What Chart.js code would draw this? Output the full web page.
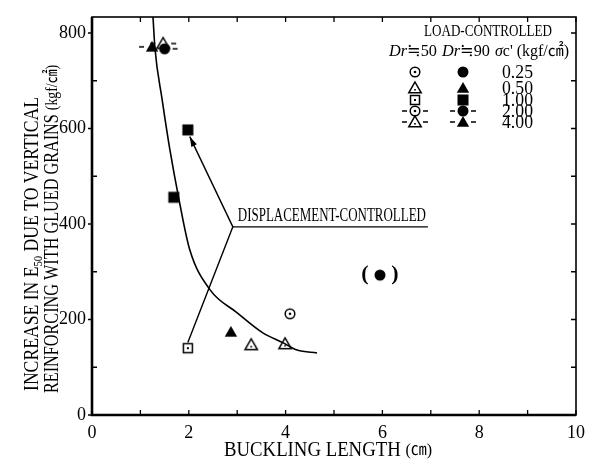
<!DOCTYPE html>
<html><head><meta charset="utf-8">
<script src="https://cdn.jsdelivr.net/npm/chart.js@4.4.0/dist/chart.umd.min.js"></script>
<style>html,body{margin:0;padding:0;background:#fff}canvas{display:block}</style>
</head><body>
<canvas id="c" width="597" height="462"></canvas>
<script>
// ---- data ----
const xTickValues = [0, 2, 4, 6, 8, 10];
const yTickValues = [0, 200, 400, 600, 800];
const sigmaLabels = ['0.25', '0.50', '1.00', '2.00', '4.00'];

// fitted curve (load-controlled)
const curveX = [1.26, 1.30, 1.45, 1.61, 1.80, 2.02, 2.44, 3.00, 3.53, 3.95, 4.24, 4.65];
const curveY = [834, 769, 660, 555, 450, 346, 262, 214, 172, 151, 136, 130];

// displacement-controlled leader lines
const dispX = [2.02, 2.91, 1.98];
const dispY = [583, 394, 152];
const dispLabelX = [2.91, 6.94];
const dispLabelY = [394, 394];

// Dr=50 (open symbols)
const dr50s025X = [4.09], dr50s025Y = [212];
const dr50s050X = [3.29, 3.99], dr50s050Y = [147, 149];
const dr50s100X = [1.98], dr50s100Y = [140];
const dr50s400X = [1.47], dr50s400Y = [778];
// Dr=90 (filled symbols)
const dr90s025X = [5.95], dr90s025Y = [293];
const dr90s050X = [2.87], dr90s050Y = [174];
const dr90s100X = [1.98, 1.69], dr90s100Y = [597, 456];
const dr90s200X = [1.50], dr90s200Y = [767];
const dr90s400X = [1.24], dr90s400Y = [771];

const SERIF = '"Liberation Serif","DejaVu Serif","Noto Sans CJK JP",serif';
const pts = (xs, ys) => xs.map((x, i) => ({x, y: ys[i]}));
const tickFont = {family: SERIF, size: 18};

// ---- marker images ----
function makeMarker(shape, filled, dashed) {
  const W = dashed ? 32 : 16, H = 16;
  const c = document.createElement('canvas'); c.width = W; c.height = H;
  const g = c.getContext('2d');
  const cx = W / 2, cy = H / 2;
  g.fillStyle = '#000'; g.strokeStyle = '#000'; g.lineWidth = 1.5;
  if (shape === 'circle') {
    g.beginPath(); g.arc(cx, cy, filled ? 5.5 : 4.8, 0, Math.PI * 2);
    if (filled) g.fill(); else { g.stroke(); g.beginPath(); g.arc(cx, cy, 1.3, 0, Math.PI * 2); g.fill(); }
  } else if (shape === 'triangle') {
    g.beginPath(); g.moveTo(cx, cy - 6); g.lineTo(cx + 6.2, cy + 4.8); g.lineTo(cx - 6.2, cy + 4.8); g.closePath();
    if (filled) g.fill(); else { g.stroke(); g.fillRect(cx - 0.8, cy + 1, 1.6, 1.6); }
  } else {
    if (filled) g.fillRect(cx - 5.5, cy - 5.5, 11, 11);
    else { g.strokeRect(cx - 4.5, cy - 4.5, 9, 9); g.fillRect(cx - 1, cy - 1, 2, 2); }
  }
  if (dashed) {
    g.lineWidth = 1.6;
    g.beginPath(); g.moveTo(3, cy); g.lineTo(8, cy); g.moveTo(W - 8, cy); g.lineTo(W - 3, cy); g.stroke();
  }
  return c;
}
const M = {
  o025: makeMarker('circle', false, false),
  o050: makeMarker('triangle', false, false),
  o100: makeMarker('square', false, false),
  o200: makeMarker('circle', false, true),
  o400: makeMarker('triangle', false, true),
  f025: makeMarker('circle', true, false),
  f050: makeMarker('triangle', true, false),
  f100: makeMarker('square', true, false),
  f200: makeMarker('circle', true, true),
  f400: makeMarker('triangle', true, true)
};

function markerSet(label, xs, ys, img) {
  return {label, data: pts(xs, ys), pointStyle: img, pointRadius: 7, showLine: false, order: 0};
}

// ---- text helpers ----
function fontOf(p, size) {
  const s = p.sub ? size * 0.6 : (p.scale ? size * p.scale : size);
  return (p.bold ? 'bold ' : '') + (p.italic ? 'italic ' : '') + s + 'px ' + SERIF;
}
function partsWidth(ctx, parts, size) {
  let w = 0;
  for (const p of parts) { ctx.font = fontOf(p, size); w += ctx.measureText(p.t).width; }
  return w;
}
function drawParts(ctx, parts, size, targetW) {
  const nat = partsWidth(ctx, parts, size);
  const sx = targetW ? targetW / nat : 1;
  ctx.save(); ctx.scale(sx, 1);
  ctx.textBaseline = 'middle'; ctx.textAlign = 'left'; ctx.fillStyle = '#000';
  let x = 0;
  for (const p of parts) {
    ctx.font = fontOf(p, size);
    ctx.fillText(p.t, x, p.sub ? size * 0.3 : 0);
    x += ctx.measureText(p.t).width;
  }
  ctx.restore();
}

const decor = {
  id: 'decor',
  afterDatasetsDraw(chart) {
    const ctx = chart.ctx, xs = chart.scales.x, ys = chart.scales.y, ca = chart.chartArea;
    ctx.save();
    ctx.strokeStyle = '#000'; ctx.fillStyle = '#000';
    // frame
    ctx.lineWidth = 1.6;
    ctx.strokeRect(ca.left, ca.top, ca.right - ca.left, ca.bottom - ca.top);
    ctx.lineWidth = 2.6;
    ctx.beginPath(); ctx.moveTo(ca.left, ca.top); ctx.lineTo(ca.left, ca.bottom); ctx.lineTo(ca.right, ca.bottom); ctx.stroke();
    // ticks
    ctx.lineWidth = 1.3;
    ctx.beginPath();
    for (let v = 0; v <= 10; v++) {
      const px = xs.getPixelForValue(v);
      ctx.moveTo(px, ca.bottom); ctx.lineTo(px, ca.bottom - 5);
      ctx.moveTo(px, ca.top); ctx.lineTo(px, ca.top + 5);
    }
    for (let v = 0; v <= 800; v += 100) {
      const py = ys.getPixelForValue(v);
      if (v % 200 === 0) { ctx.moveTo(ca.left - 4, py); ctx.lineTo(ca.left, py); }
      else { ctx.moveTo(ca.left, py); ctx.lineTo(ca.left + 5, py); }
      ctx.moveTo(ca.right, py); ctx.lineTo(ca.right - 5, py);
    }
    ctx.stroke();

    // arrow head on displacement leader
    const tx = xs.getPixelForValue(dispX[0]), ty = ys.getPixelForValue(dispY[0]);
    const fx = xs.getPixelForValue(dispX[1]), fy = ys.getPixelForValue(dispY[1]);
    const a = Math.atan2(ty - fy, tx - fx);
    ctx.beginPath();
    ctx.moveTo(tx, ty);
    ctx.lineTo(tx - 10 * Math.cos(a) + 3 * Math.sin(a), ty - 10 * Math.sin(a) - 3 * Math.cos(a));
    ctx.lineTo(tx - 10 * Math.cos(a) - 3 * Math.sin(a), ty - 10 * Math.sin(a) + 3 * Math.cos(a));
    ctx.closePath(); ctx.fill();

    // displacement label
    const lx = xs.getPixelForValue(dispLabelX[0]), ly = ys.getPixelForValue(dispLabelY[0]);
    const rx = xs.getPixelForValue(dispLabelX[1]);
    ctx.save(); ctx.translate(lx + 5, ly - 11);
    drawParts(ctx, [{t: 'DISPLACEMENT-CONTROLLED'}], 18, rx - lx - 7);
    ctx.restore();

    // parentheses around bracketed point
    const bx = xs.getPixelForValue(dr90s025X[0]), by = ys.getPixelForValue(dr90s025Y[0]);
    ctx.font = 'bold 22px ' + SERIF; ctx.textAlign = 'center'; ctx.textBaseline = 'middle';
    ctx.fillText('(', bx - 15, by - 1); ctx.fillText(')', bx + 15, by - 1);

    // y title (two rotated lines)
    ctx.save(); ctx.translate(33, 391); ctx.rotate(-Math.PI / 2);
    drawParts(ctx, [{t: 'INCREASE IN E'}, {t: '50', sub: true}, {t: ' DUE TO VERTICAL'}], 20, 294);
    ctx.restore();
    ctx.save(); ctx.translate(53, 393); ctx.rotate(-Math.PI / 2);
    drawParts(ctx, [{t: 'REINFORCING WITH GLUED GRAINS '}, {t: '(kgf/㎠)', scale: 0.85}], 20, 328);
    ctx.restore();

    // x title
    ctx.save(); ctx.translate(224, 451);
    drawParts(ctx, [{t: 'BUCKLING LENGTH '}, {t: '(㎝)', scale: 0.85}], 20, 208);
    ctx.restore();

    // legend
    ctx.save(); ctx.translate(424, 32);
    drawParts(ctx, [{t: 'LOAD-CONTROLLED'}], 17, 128);
    ctx.restore();
    ctx.save(); ctx.translate(389, 52);
    drawParts(ctx, [{t: 'Dr', italic: true}, {t: '≒50'}], 17, 48);
    ctx.restore();
    ctx.save(); ctx.translate(442, 52);
    drawParts(ctx, [{t: 'Dr', italic: true}, {t: '≒90'}], 17, 48);
    ctx.restore();
    ctx.save(); ctx.translate(495, 52);
    drawParts(ctx, [{t: 'σ', italic: true}, {t: "c' (kgf/㎠)"}], 17, 74);
    ctx.restore();
    const rowY = [72, 88, 100, 111, 122];
    const col50 = [M.o025, M.o050, M.o100, M.o200, M.o400];
    const col90 = [M.f025, M.f050, M.f100, M.f200, M.f400];
    for (let i = 0; i < sigmaLabels.length; i++) {
      const y = rowY[i];
      const a5 = col50[i], a9 = col90[i];
      ctx.drawImage(a5, 415 - a5.width / 2, y - a5.height / 2);
      ctx.drawImage(a9, 463 - a9.width / 2, y - a9.height / 2);
      ctx.save(); ctx.translate(502, y + 1);
      drawParts(ctx, [{t: sigmaLabels[i]}], 18, 31);
      ctx.restore();
    }
    ctx.restore();
  }
};

new Chart(document.getElementById('c'), {
  type: 'scatter',
  data: {
    datasets: [
      markerSet('Dr50 0.25', dr50s025X, dr50s025Y, M.o025),
      markerSet('Dr50 0.50', dr50s050X, dr50s050Y, M.o050),
      markerSet('Dr50 1.00', dr50s100X, dr50s100Y, M.o100),
      markerSet('Dr90 2.00', dr90s200X, dr90s200Y, M.f200),
      markerSet('Dr50 4.00', dr50s400X, dr50s400Y, M.o400),
      markerSet('Dr90 0.25', dr90s025X, dr90s025Y, M.f025),
      markerSet('Dr90 0.50', dr90s050X, dr90s050Y, M.f050),
      markerSet('Dr90 1.00', dr90s100X, dr90s100Y, M.f100),
      markerSet('Dr90 4.00', dr90s400X, dr90s400Y, M.f400),
      {label: 'curve', data: pts(curveX, curveY), showLine: true, pointRadius: 0, borderColor: '#000',
       borderWidth: 1.6, cubicInterpolationMode: 'monotone', order: 2},
      {label: 'disp', data: pts(dispX, dispY), showLine: true, pointRadius: 0, borderColor: '#000',
       borderWidth: 1.4, tension: 0, order: 2},
      {label: 'dispLabel', data: pts(dispLabelX, dispLabelY), showLine: true, pointRadius: 0, borderColor: '#000',
       borderWidth: 1.4, tension: 0, order: 2}
    ]
  },
  options: {
    responsive: false, animation: false, devicePixelRatio: 1,
    layout: {padding: {top: 17, right: 21, left: 0, bottom: 0}},
    plugins: {legend: {display: false}, tooltip: {enabled: false}},
    scales: {
      x: {type: 'linear', min: 0, max: 10,
          afterBuildTicks: s => { s.ticks = xTickValues.map(v => ({value: v})); },
          afterFit: s => { s.height = 47; },
          grid: {display: false, drawTicks: false}, border: {display: false},
          ticks: {color: '#000', font: tickFont, padding: 7, maxRotation: 0, autoSkip: false}},
      y: {type: 'linear', min: 0, max: 833.5,
          afterBuildTicks: s => { s.ticks = yTickValues.map(v => ({value: v})); },
          afterFit: s => { s.width = 92; },
          grid: {display: false, drawTicks: false}, border: {display: false},
          ticks: {color: '#000', font: tickFont, padding: 6, autoSkip: false}}
    }
  },
  plugins: [decor]
});
</script>
</body></html>
